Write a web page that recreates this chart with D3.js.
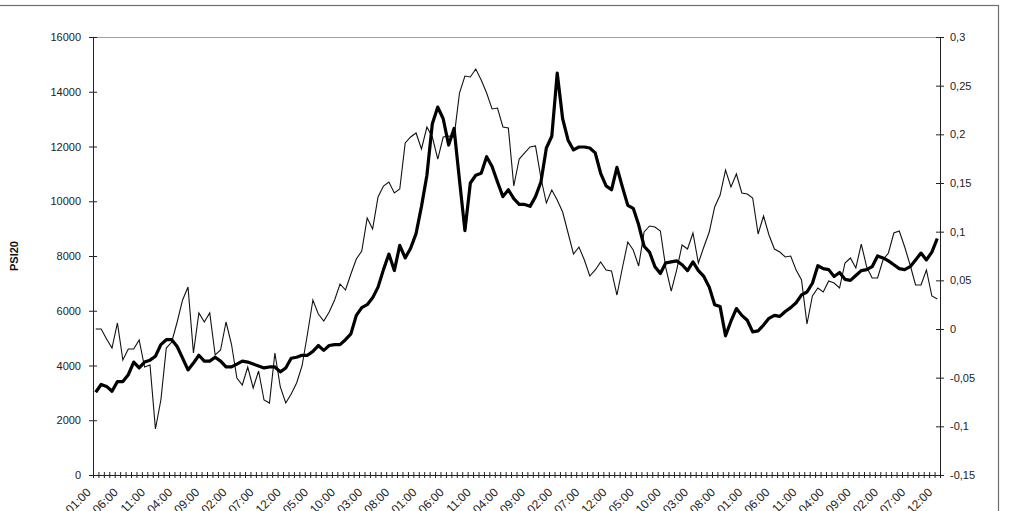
<!DOCTYPE html>
<html><head><meta charset="utf-8">
<script src="https://cdn.jsdelivr.net/npm/d3@7"></script>
<style>body{margin:0;background:#fff} text{font-family:"Liberation Sans",Arial,sans-serif}</style>
</head><body><svg id="c" width="1011" height="511"></svg>
<script>
const psi20=[5333,5333,4968,4639,5553,4201,4603,4603,4932,3945,
4018,1680,2740,4639,4858,5589,6393,6868,4457,5918,
5589,5918,4384,4566,5589,4785,3543,3288,3945,3178,
3799,2740,2630,4457,3215,2630,2959,3361,3982,5151,
6393,5881,5626,5954,6393,6977,6758,7343,7890,8183,
9388,8986,10155,10557,10703,10301,10447,12128,12347,12493,
11909,12712,12347,11543,12347,12384,12347,13954,14575,14539,
14831,14429,13954,13370,13406,12712,12676,10557,11543,11763,
11982,12018,10849,9936,10411,10046,9607,8840,8073,8329,
7854,7269,7489,7781,7489,7452,6575,7562,8511,8219,
7635,8877,9096,9059,8913,7562,6721,7489,8402,8256,
8840,7744,8329,8877,9790,10228,11141,10520,10995,10301,
10265,10119,8804,9461,8767,8256,8146,7963,8000,7489,
7123,5516,6539,6831,6685,7087,7014,6831,7744,7927,
7562,8438,7598,7196,7196,7854,8110,8840,8913,8329,
7671,6941,6941,7489,6539,6429];
const herding=[-0.065,-0.057,-0.059,-0.064,-0.054,-0.054,-0.047,-0.034,-0.040,-0.034,
-0.032,-0.028,-0.016,-0.011,-0.011,-0.018,-0.030,-0.042,-0.035,-0.027,
-0.033,-0.033,-0.029,-0.033,-0.039,-0.039,-0.036,-0.033,-0.034,-0.036,
-0.038,-0.040,-0.039,-0.039,-0.044,-0.040,-0.030,-0.029,-0.027,-0.027,
-0.023,-0.017,-0.022,-0.017,-0.016,-0.016,-0.011,-0.005,0.014,0.022,
0.025,0.032,0.043,0.061,0.077,0.060,0.086,0.073,0.083,0.098,
0.126,0.158,0.211,0.228,0.216,0.189,0.206,0.153,0.101,0.150,
0.158,0.160,0.177,0.167,0.151,0.136,0.143,0.134,0.128,0.128,
0.126,0.136,0.151,0.186,0.198,0.263,0.216,0.194,0.184,0.187,
0.187,0.186,0.181,0.160,0.147,0.143,0.166,0.146,0.127,0.124,
0.107,0.085,0.079,0.064,0.057,0.068,0.069,0.070,0.066,0.060,
0.069,0.060,0.054,0.043,0.025,0.023,-0.007,0.008,0.021,0.014,
0.009,-0.003,-0.002,0.004,0.011,0.014,0.013,0.018,0.022,0.027,
0.035,0.038,0.047,0.065,0.062,0.061,0.054,0.058,0.051,0.050,
0.055,0.060,0.061,0.064,0.075,0.073,0.070,0.066,0.062,0.061,
0.064,0.071,0.078,0.071,0.079,0.093];
const xTickLabels=["01:00","06:00","11:00","04:00","09:00","02:00","07:00","12:00","05:00","10:00","03:00","08:00",
"01:00","06:00","11:00","04:00","09:00","02:00","07:00","12:00","05:00","10:00","03:00","08:00",
"01:00","06:00","11:00","04:00","09:00","02:00","07:00","12:00"];
const leftTicks=[0,2000,4000,6000,8000,10000,12000,14000,16000];
const rightTicks=[-0.15,-0.1,-0.05,0,0.05,0.1,0.15,0.2,0.25,0.3];
const rightTickLabels=["-0,15","-0,1","-0,05","0","0,05","0,1","0,15","0,2","0,25","0,3"];
const leftTitle="PSI20", rightTitle="HERDING";

const L=93,R=940,T=37,B=475;
const svg=d3.select("#c");
svg.append("rect").attr("x",-2).attr("y",5.5).attr("width",1000.5).attr("height",530)
  .attr("fill","#fff").attr("stroke","#6e6e6e").attr("stroke-width",1.2);

const n=psi20.length;
const x=d3.scaleBand().domain(d3.range(n)).range([L,R]).padding(0);
const bw=x.bandwidth();
const xe=d3.scaleLinear().domain([0,n]).range([L,R]);
const yL=d3.scaleLinear().domain([0,16000]).range([B,T]);
const yR=d3.scaleLinear().domain([-0.15,0.3]).range([B,T]);

svg.append("line").attr("x1",L).attr("x2",R).attr("y1",T+0.5).attr("y2",T+0.5).attr("stroke","#a0a0a0").attr("stroke-width",1.2);

const gL=svg.append("g").attr("transform",`translate(${L},0)`)
  .call(d3.axisLeft(yL).tickValues(leftTicks).tickFormat(d=>String(d)).tickSize(4).tickSizeOuter(0).tickPadding(8));
gL.selectAll(".tick line").attr("x1",4);
const gR=svg.append("g").attr("transform",`translate(${R},0)`)
  .call(d3.axisRight(yR).tickValues(rightTicks).tickFormat((d,i)=>rightTickLabels[i]).tickSize(4).tickSizeOuter(0).tickPadding(6));
gR.selectAll(".tick line").attr("x1",-4);
const gB=svg.append("g").attr("transform",`translate(0,${B})`)
  .call(d3.axisBottom(xe).tickValues(d3.range(n+1)).tickFormat("").tickSize(3).tickSizeOuter(0));
gB.selectAll(".tick line").attr("y1",-3);
[gL,gR,gB].forEach(g=>{g.selectAll(".domain").attr("stroke","#222");g.selectAll(".tick line").attr("stroke","#222");
  g.selectAll("text").attr("font-size",11).attr("fill","#222").attr("font-family","Liberation Sans, Arial, sans-serif");});

const lab=svg.append("g");
xTickLabels.forEach((t,k)=>{
  const i=k*5, cx=x(i)+bw/2;
  lab.append("text").attr("transform",`translate(${cx-7},${490}) rotate(-45)`)
    .attr("text-anchor","end").attr("dy","0.35em").attr("font-size",12).attr("fill","#222").text(t);
});

svg.append("text").attr("transform","translate(18,256) rotate(-90)").attr("text-anchor","middle")
  .attr("font-size",11).attr("font-weight","bold").attr("fill","#111").text(leftTitle);
svg.append("defs").append("clipPath").attr("id","rc").append("rect").attr("x",970).attr("y",231).attr("width",30).attr("height",70);
svg.append("text").attr("clip-path","url(#rc)").attr("transform","translate(991,256) rotate(-90)").attr("text-anchor","middle")
  .attr("font-size",11).attr("font-weight","bold").attr("fill","#111").text(rightTitle);

svg.append("path").datum(psi20).attr("fill","none").attr("stroke","#111").attr("stroke-width",1.1)
  .attr("d",d3.line().x((d,i)=>x(i)+bw/2).y(d=>yL(d)));
svg.append("path").datum(herding).attr("fill","none").attr("stroke","#000").attr("stroke-width",3.2).attr("stroke-linejoin","round")
  .attr("d",d3.line().x((d,i)=>x(i)+bw/2).y(d=>yR(d)));
</script></body></html>
